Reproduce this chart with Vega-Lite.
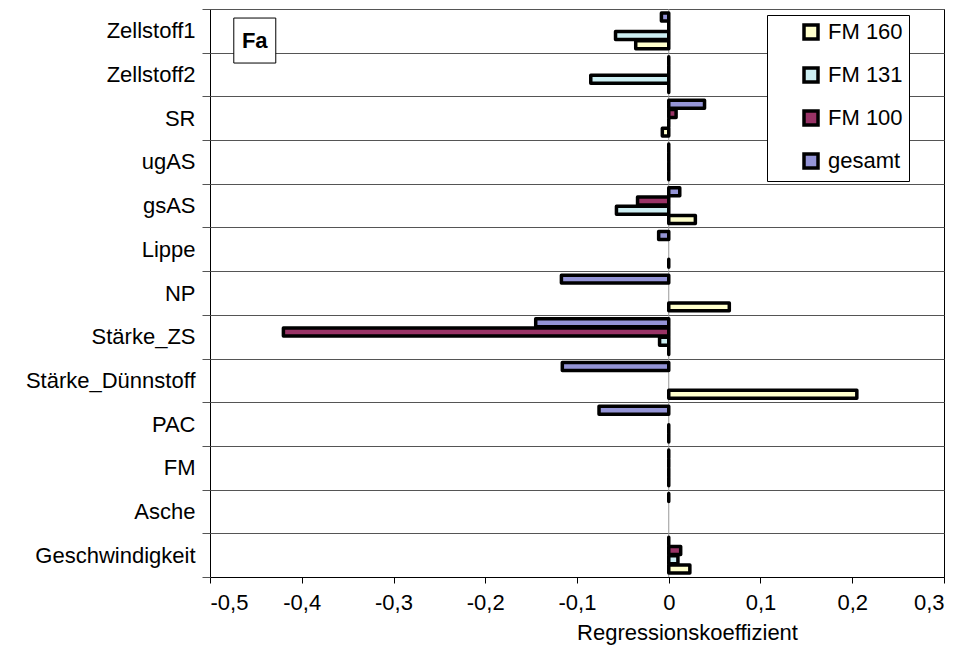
{
  "$schema": "https://vega.github.io/schema/vega-lite/v6.json",
  "width": 734,
  "height": 568,
  "autosize": {"type": "none"},
  "padding": {"left": 210, "top": 9, "right": 24, "bottom": 76},
  "background": "white",
  "config": {
    "font": "Liberation Sans",
    "view": {"stroke": "#000000", "strokeWidth": 1}
  },
  "datasets": {
    "bars": [
      {"var": "Zellstoff1", "series": "gesamt", "value": -0.008},
      {"var": "Zellstoff2", "series": "gesamt", "value": 0},
      {"var": "SR", "series": "gesamt", "value": 0.039},
      {"var": "ugAS", "series": "gesamt", "value": 0},
      {"var": "gsAS", "series": "gesamt", "value": 0.012},
      {"var": "Lippe", "series": "gesamt", "value": -0.011},
      {"var": "NP", "series": "gesamt", "value": -0.117},
      {"var": "Stärke_ZS", "series": "gesamt", "value": -0.145},
      {"var": "Stärke_Dünnstoff", "series": "gesamt", "value": -0.116},
      {"var": "PAC", "series": "gesamt", "value": -0.076},
      {"var": "FM", "series": "gesamt", "value": 0},
      {"var": "Asche", "series": "gesamt", "value": 0},
      {"var": "Geschwindigkeit", "series": "gesamt", "value": 0},
      {"var": "Zellstoff1", "series": "FM 100", "value": 0},
      {"var": "Zellstoff2", "series": "FM 100", "value": 0},
      {"var": "SR", "series": "FM 100", "value": 0.008},
      {"var": "ugAS", "series": "FM 100", "value": 0},
      {"var": "gsAS", "series": "FM 100", "value": -0.034},
      {"var": "Stärke_ZS", "series": "FM 100", "value": -0.42},
      {"var": "FM", "series": "FM 100", "value": 0},
      {"var": "Geschwindigkeit", "series": "FM 100", "value": 0.013},
      {"var": "Zellstoff1", "series": "FM 131", "value": -0.058},
      {"var": "Zellstoff2", "series": "FM 131", "value": -0.085},
      {"var": "SR", "series": "FM 131", "value": 0},
      {"var": "ugAS", "series": "FM 131", "value": 0},
      {"var": "gsAS", "series": "FM 131", "value": -0.057},
      {"var": "Stärke_ZS", "series": "FM 131", "value": -0.01},
      {"var": "PAC", "series": "FM 131", "value": 0},
      {"var": "FM", "series": "FM 131", "value": 0},
      {"var": "Geschwindigkeit", "series": "FM 131", "value": 0.01},
      {"var": "Zellstoff1", "series": "FM 160", "value": -0.036},
      {"var": "Zellstoff2", "series": "FM 160", "value": 0},
      {"var": "SR", "series": "FM 160", "value": -0.007},
      {"var": "ugAS", "series": "FM 160", "value": 0},
      {"var": "gsAS", "series": "FM 160", "value": 0.029},
      {"var": "Lippe", "series": "FM 160", "value": 0},
      {"var": "NP", "series": "FM 160", "value": 0.066},
      {"var": "Stärke_ZS", "series": "FM 160", "value": 0},
      {"var": "Stärke_Dünnstoff", "series": "FM 160", "value": 0.205},
      {"var": "PAC", "series": "FM 160", "value": 0},
      {"var": "FM", "series": "FM 160", "value": 0},
      {"var": "Geschwindigkeit", "series": "FM 160", "value": 0.023}
    ],
    "label": [
      {"text": "Fa", "x": -0.4512, "var": "Zellstoff1"}
    ],
    "zero": [
      {"x": 0}
    ]
  },
  "layer": [
    {
      "data": {"name": "zero"},
      "mark": {"type": "rule", "color": "#999999", "strokeWidth": 1},
      "encoding": {"x": {"field": "x", "type": "quantitative"}}
    },
    {
      "data": {"name": "bars"},
      "mark": {"type": "bar", "stroke": "#000000", "strokeWidth": 3.5, "strokeJoin": "round"},
      "encoding": {
        "y": {
          "field": "var",
          "type": "nominal",
          "sort": ["Zellstoff1", "Zellstoff2", "SR", "ugAS", "gsAS", "Lippe", "NP", "Stärke_ZS", "Stärke_Dünnstoff", "PAC", "FM", "Asche", "Geschwindigkeit"],
          "scale": {"paddingInner": 0, "paddingOuter": 0},
          "axis": {
            "title": null,
            "tickBand": "extent",
            "grid": true,
            "gridColor": "#555555",
            "gridWidth": 1,
            "domain": false,
            "ticks": true,
            "tickSize": 8,
            "tickColor": "#555555",
            "labelFontSize": 22,
            "labelColor": "#000000",
            "labelPadding": 7,
            "labelFont": "Liberation Sans"
          }
        },
        "yOffset": {
          "field": "series",
          "type": "nominal",
          "sort": ["gesamt", "FM 100", "FM 131", "FM 160"],
          "scale": {"paddingOuter": 0.43, "paddingInner": 0.14}
        },
        "x": {
          "field": "value",
          "type": "quantitative",
          "scale": {"domain": [-0.5, 0.3], "nice": false, "zero": false},
          "axis": {
            "values": [-0.5, -0.4, -0.3, -0.2, -0.1, 0, 0.1, 0.2, 0.3],
            "labelExpr": "datum.value == 0 ? '0' : (datum.value < 0 ? '-' : '') + replace(format(abs(datum.value), '.1f'), '.', ',')",
            "grid": false,
            "domainColor": "#000000",
            "tickColor": "#000000",
            "tickSize": 6,
            "labelFontSize": 22,
            "labelColor": "#000000",
            "labelPadding": 9,
            "labelFont": "Liberation Sans",
            "title": "Regressionskoeffizient",
            "titleFontSize": 22,
            "titleFontWeight": "normal",
            "titleColor": "#000000",
            "titleFont": "Liberation Sans",
            "titlePadding": 9,
            "titleX": 477
          }
        },
        "color": {
          "field": "series",
          "type": "nominal",
          "scale": {
            "domain": ["FM 160", "FM 131", "FM 100", "gesamt"],
            "range": ["#FFFFCC", "#CCEEF2", "#993366", "#9494D6"]
          },
          "legend": {
            "title": null,
            "orient": "none",
            "legendX": 557,
            "legendY": 6,
            "direction": "vertical",
            "symbolType": "square",
            "symbolSize": 196,
            "symbolStrokeColor": "#000000",
            "symbolStrokeWidth": 3.5,
            "symbolOpacity": 1,
            "symbolOffset": 27,
            "labelFontSize": 22,
            "labelColor": "#000000",
            "labelFont": "Liberation Sans",
            "labelOffset": 6,
            "rowPadding": 15,
            "padding": 6,
            "strokeColor": "#000000",
            "fillColor": "#FFFFFF"
          }
        }
      }
    },
    {
      "data": {"name": "label"},
      "mark": {"type": "point", "shape": "M-0.933,-1L0.933,-1L0.933,1L-0.933,1Z", "size": 2025, "filled": true, "fill": "#FFFFFF", "stroke": "#000000", "strokeWidth": 1, "opacity": 1, "yOffset": 9.7},
      "encoding": {
        "x": {"field": "x", "type": "quantitative"},
        "y": {
          "field": "var",
          "type": "nominal",
          "sort": ["Zellstoff1", "Zellstoff2", "SR", "ugAS", "gsAS", "Lippe", "NP", "Stärke_ZS", "Stärke_Dünnstoff", "PAC", "FM", "Asche", "Geschwindigkeit"]
        }
      }
    },
    {
      "data": {"name": "label"},
      "mark": {"type": "text", "fontSize": 22, "fontWeight": "bold", "font": "Liberation Sans", "color": "#000000", "yOffset": 9.7},
      "encoding": {
        "text": {"field": "text"},
        "x": {"field": "x", "type": "quantitative"},
        "y": {
          "field": "var",
          "type": "nominal",
          "sort": ["Zellstoff1", "Zellstoff2", "SR", "ugAS", "gsAS", "Lippe", "NP", "Stärke_ZS", "Stärke_Dünnstoff", "PAC", "FM", "Asche", "Geschwindigkeit"]
        }
      }
    }
  ]
}
